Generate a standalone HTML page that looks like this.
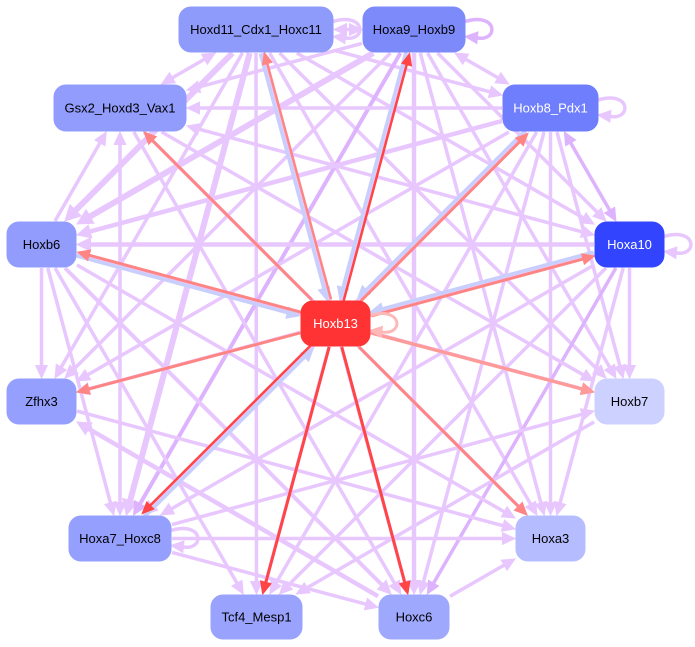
<!DOCTYPE html>
<html><head><meta charset="utf-8">
<style>
html,body{margin:0;padding:0;background:#fff;}
svg{display:block;}
text{font-family:"Liberation Sans",Arial,sans-serif;font-size:13px;}
</style></head>
<body>
<svg id="s" width="695" height="647" xmlns="http://www.w3.org/2000/svg">
<rect width="695" height="647" fill="#fff"/>
<g id="edges"></g>
<g id="nodes"></g>
</svg>
<script>
(function(){
const NS='http://www.w3.org/2000/svg';
const gE=document.getElementById('edges');
const gN=document.getElementById('nodes');
const N={
A:[179,7,333,52,'#8f9bfb','#000','Hoxd11_Cdx1_Hoxc11'],
B:[363,7,465,52,'#7d8af9','#000','Hoxa9_Hoxb9'],
C:[54,85,186,131,'#919cfd','#000','Gsx2_Hoxd3_Vax1'],
D:[503,85,598,131,'#6f7efc','#fff','Hoxb8_Pdx1'],
E:[7,222,76,267,'#929cfd','#000','Hoxb6'],
F:[595,222,664,267,'#3344ff','#fff','Hoxa10'],
G:[301,301,370,346,'#ff3333','#fff','Hoxb13'],
H:[7,379,76,424,'#959ffd','#000','Zfhx3'],
I:[595,379,664,424,'#cdd1ff','#000','Hoxb7'],
J:[69,516,171,561,'#959ffd','#000','Hoxa7_Hoxc8'],
K:[516,516,585,561,'#b5bcff','#000','Hoxa3'],
L:[211,595,302,639,'#99a3fd','#000','Tcf4_Mesp1'],
M:[379,595,449,639,'#9ea8fc','#000','Hoxc6']
};
function el(tag,attrs,parent){const e=document.createElementNS(NS,tag);for(const k in attrs)e.setAttribute(k,attrs[k]);(parent||gE).appendChild(e);return e;}
function ctr(n){const a=N[n];return [(a[0]+a[2])/2,(a[1]+a[3])/2,(a[2]-a[0])/2+1,(a[3]-a[1])/2+1];}
function clip(n,dx,dy){const c=ctr(n);let t=1e9;if(Math.abs(dx)>1e-6)t=Math.min(t,c[2]/Math.abs(dx));if(Math.abs(dy)>1e-6)t=Math.min(t,c[3]/Math.abs(dy));return [c[0]+dx*t,c[1]+dy*t];}
function arrow(tip,dx,dy,w,col){const al=9+w,hw=3+w*0.8;const bx=tip[0]-dx*al,by=tip[1]-dy*al;const nx=-dy,ny=dx;
el('polygon',{points:tip[0]+','+tip[1]+' '+(bx+nx*hw)+','+(by+ny*hw)+' '+(bx-nx*hw)+','+(by-ny*hw),fill:col,stroke:col,'stroke-width':1});}
function edge(s,t,col,w,off,both){off=off||0;const cs=ctr(s),ct=ctr(t);let dx=ct[0]-cs[0],dy=ct[1]-cs[1];const L=Math.hypot(dx,dy);dx/=L;dy/=L;const nx=-dy,ny=dx;
let p1=clip(s,dx,dy),p2=clip(t,-dx,-dy);p1=[p1[0]+nx*off,p1[1]+ny*off];p2=[p2[0]+nx*off,p2[1]+ny*off];
const al=9+w;let a=p1;if(both)a=[p1[0]+dx*(al-1),p1[1]+dy*(al-1)];const b=[p2[0]-dx*(al-1),p2[1]-dy*(al-1)];
el('line',{x1:a[0],y1:a[1],x2:b[0],y2:b[1],stroke:col,'stroke-width':w});
arrow(p2,dx,dy,w,col);if(both)arrow(p1,-dx,-dy,w,col);}
function loop(n,col,w){const a=N[n];const x=a[2],cy=(a[1]+a[3])/2;
el('path',{d:'M'+x+','+(cy-8)+' C'+(x+34)+','+(cy-18)+' '+(x+34)+','+(cy+14)+' '+(x+10)+','+(cy+8),fill:'none',stroke:col,'stroke-width':w});
arrow([x,cy+7],-0.99,-0.1,w,col);}
const P='#e8c7fe',P2='#deb3fd',BL='#c9cffd',R1='#ff4545',R2='#ff8585',R3='#ff9a9a';
const E=[
['A','C',P,3.5,0,1],['A','E',P,6],['A','J',P,6],['A','H',P,3.5],['A','L',P,3.5],['A','M',P,3.5],['A','K',P,3.5],['A','I',P,3.5],['A','F',P,3.5],['A','D',P,3.5],['A','B',P,3.5,0,1],
['B','C',P,3.5],['B','E',P,6],['B','H',P,3.5],['B','J',P2,4],['B','L',P,3.5],['B','M',P,4.5],['B','K',P,3.5],['B','I',P,3.5],['B','F',P,3.5],['B','D',P,3.5,0,1],
['D','C',P,3.5],['D','E',P,4.5],['D','H',P,3.5],['D','J',P,4.5],['D','L',P,3.5],['D','M',P,3.5],['D','K',P,3.5],['D','I',P,3.5],['D','F',P2,3.5,0,1],
['F','E',P,4.5],['F','C',P,3.5,0,1],['F','H',P,3.5],['F','J',P,3.5],['F','L',P,3.5],['F','M',P2,3.5],['F','K',P,3.5],['F','I',P,3.5],
['E','C',P,3.5],['E','H',P,3.5],['E','J',P,3.5],['E','L',P,3.5],['E','M',P,4],['E','K',P,3.5],['E','I',P,3.5],
['C','J',P,3.5,0,1],['C','I',P,3.5],['C','K',P,3.5],['C','M',P,3.5],
['J','K',P,3.5],['J','M',P,3.5],['J','I',P,3.5],['M','K',P,3.5],['M','H',P,4.5],['H','K',P,3.5],['I','L',P,3.5]
];
E.forEach(e=>edge(e[0],e[1],e[2],e[3],e[4],e[5]));
loop('A',P,3.5);loop('B',P2,3.5);loop('D',P,3.5);loop('F',P,3.5);loop('J',P,3.5);
[['A','G'],['B','G'],['D','G'],['E','G'],['F','G'],['J','G']].forEach(e=>edge(e[0],e[1],BL,3.5,2));
edge('G','A',R2,2.5,2);edge('G','B',R1,2.5,2);edge('G','C',R2,3);edge('G','D',R2,3,2);
edge('G','E',R2,3,2);edge('G','F',R2,3,2);edge('G','H',R2,3);edge('G','I',R3,3.5);
edge('G','J',R1,2.5,2);edge('G','K',R2,3);edge('G','L',R1,3);edge('G','M',R1,3);
loop('G','#ffb8b8',3);
for(const k in N){const a=N[k];
el('rect',{x:a[0],y:a[1],width:a[2]-a[0],height:a[3]-a[1],rx:12,ry:12,fill:a[4],stroke:a[4],'stroke-width':1},gN);
const t=el('text',{x:(a[0]+a[2])/2,y:(a[1]+a[3])/2+4.5,'text-anchor':'middle',fill:a[5]},gN);t.textContent=a[6];}
})();
</script>
</body></html>
